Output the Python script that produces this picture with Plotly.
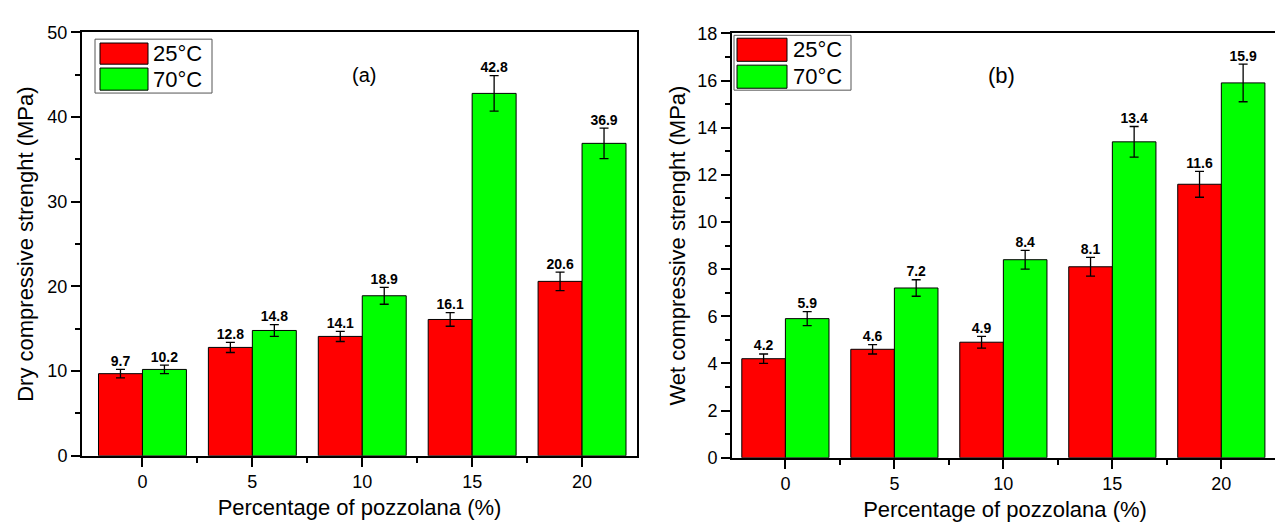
import plotly.graph_objects as go

W, H = 1283, 529

pozzolana = [0, 5, 10, 15, 20]
x_tick_labels = ["0", "5", "10", "15", "20"]
series_names = ["25°C", "70°C"]

dry_25 = [9.7, 12.8, 14.1, 16.1, 20.6]
dry_70 = [10.2, 14.8, 18.9, 42.8, 36.9]
dry_25_err = [0.5, 0.6, 0.6, 0.8, 1.1]
dry_70_err = [0.5, 0.7, 1.0, 2.1, 1.8]

wet_25 = [4.2, 4.6, 4.9, 8.1, 11.6]
wet_70 = [5.9, 7.2, 8.4, 13.4, 15.9]
wet_25_err = [0.2, 0.2, 0.25, 0.4, 0.55]
wet_70_err = [0.3, 0.35, 0.4, 0.65, 0.8]

RED = "#FF0000"
GREEN = "#00FF00"
FONT = "Liberation Sans, Arial, sans-serif"


def px_x(p):
    return p / W


def px_y(p):
    return 1 - p / H


fig = go.Figure()


def add_panel(xa, ya, v25, v70, e25, e70):
    for vals, errs, color, off, name in [
        (v25, e25, RED, -2, series_names[0]),
        (v70, e70, GREEN, 0, series_names[1]),
    ]:
        fig.add_trace(go.Bar(
            x=pozzolana, y=vals, width=2, offset=off, name=name,
            marker=dict(color=color, line=dict(color="black", width=1)),
            error_y=dict(type="data", array=errs, visible=True,
                         color="black", thickness=1.3, width=4.5),
            xaxis=xa, yaxis=ya, showlegend=False,
        ))
        fig.add_trace(go.Scatter(
            x=[p + off + 1 for p in pozzolana],
            y=[v + e for v, e in zip(vals, errs)],
            text=[f"{v:.1f}" for v in vals],
            mode="text", textposition="top center",
            textfont=dict(size=14, color="black", family=FONT, weight="bold"),
            xaxis=xa, yaxis=ya, showlegend=False, hoverinfo="skip",
        ))


add_panel("x", "y", dry_25, dry_70, dry_25_err, dry_70_err)
add_panel("x2", "y2", wet_25, wet_70, wet_25_err, wet_70_err)

axis_common = dict(
    showline=True, linecolor="black", linewidth=2, mirror=True,
    ticks="outside", ticklen=9, tickwidth=2, tickcolor="black",
    showgrid=False, zeroline=False,
    tickfont=dict(size=18, family=FONT, color="black"),
)
minor_common = dict(ticks="outside", ticklen=5, tickwidth=2, tickcolor="black")

fig.update_layout(
    width=W, height=H,
    margin=dict(l=0, r=0, t=0, b=0),
    paper_bgcolor="white", plot_bgcolor="white",
    font=dict(family=FONT, color="black"),
    showlegend=False,
    xaxis=dict(domain=[px_x(74), px_x(629)], range=[-2.75, 22.5],
               tickvals=pozzolana, ticktext=x_tick_labels,
               minor=dict(tickvals=[2.5, 7.5, 12.5, 17.5], **minor_common),
               title=dict(text="Percentage of pozzolana (%)",
                          font=dict(size=22, family=FONT), standoff=8),
               anchor="y", **axis_common),
    yaxis=dict(domain=[px_y(455), px_y(15)], range=[0, 50],
               tickvals=[0, 10, 20, 30, 40, 50],
               minor=dict(dtick=5, **minor_common),
               title=dict(text="Dry compressive strenght (MPa)",
                          font=dict(size=22, family=FONT), standoff=8),
               anchor="x", **axis_common),
    xaxis2=dict(domain=[px_x(724), px_x(1270)], range=[-2.45, 22.6],
                tickvals=pozzolana, ticktext=x_tick_labels,
                minor=dict(tickvals=[2.5, 7.5, 12.5, 17.5], **minor_common),
                title=dict(text="Percentage of pozzolana (%)",
                           font=dict(size=22, family=FONT), standoff=8),
                anchor="y2", **axis_common),
    yaxis2=dict(domain=[px_y(457), px_y(16)], range=[0, 18],
                tickvals=[0, 2, 4, 6, 8, 10, 12, 14, 16, 18],
                minor=dict(dtick=1, **minor_common),
                title=dict(text="Wet compressive strenght (MPa)",
                           font=dict(size=22, family=FONT), standoff=6),
                anchor="x2", **axis_common),
)

# Legends drawn as boxes (pixel positions converted to paper coords)
shapes = []
annotations = []


def legend(box, sw_x, sw_rows, txt_x):
    x0, y0, x1, y1 = box
    shapes.append(dict(type="rect", xref="paper", yref="paper",
                       x0=px_x(x0), x1=px_x(x1), y0=px_y(y1), y1=px_y(y0),
                       line=dict(color="#555555", width=1), fillcolor="white",
                       layer="above"))
    for (ya, yb), color, name in zip(sw_rows, [RED, GREEN], series_names):
        shapes.append(dict(type="rect", xref="paper", yref="paper",
                           x0=px_x(sw_x[0]), x1=px_x(sw_x[1]),
                           y0=px_y(yb), y1=px_y(ya),
                           line=dict(color="black", width=1), fillcolor=color,
                           layer="above"))
        annotations.append(dict(xref="paper", yref="paper", x=px_x(txt_x),
                                y=px_y((ya + yb) / 2), text=name,
                                showarrow=False, xanchor="left",
                                yanchor="middle",
                                font=dict(size=22, family=FONT, color="black")))


legend((87, 22, 204, 78), (92, 140), [(26, 48), (52, 75)], 143)
legend((726, 18, 843, 75), (729, 779), [(21, 45), (49, 73)], 783)

annotations.append(dict(xref="paper", yref="paper", x=px_x(342), y=px_y(46),
                        text="(a)", showarrow=False,
                        font=dict(size=20, family=FONT, color="black")))
annotations.append(dict(xref="paper", yref="paper", x=px_x(1009), y=px_y(45),
                        text="(b)", showarrow=False,
                        font=dict(size=22, family=FONT, color="black")))

fig.update_layout(shapes=shapes, annotations=annotations)

fig.write_html("out.html")
